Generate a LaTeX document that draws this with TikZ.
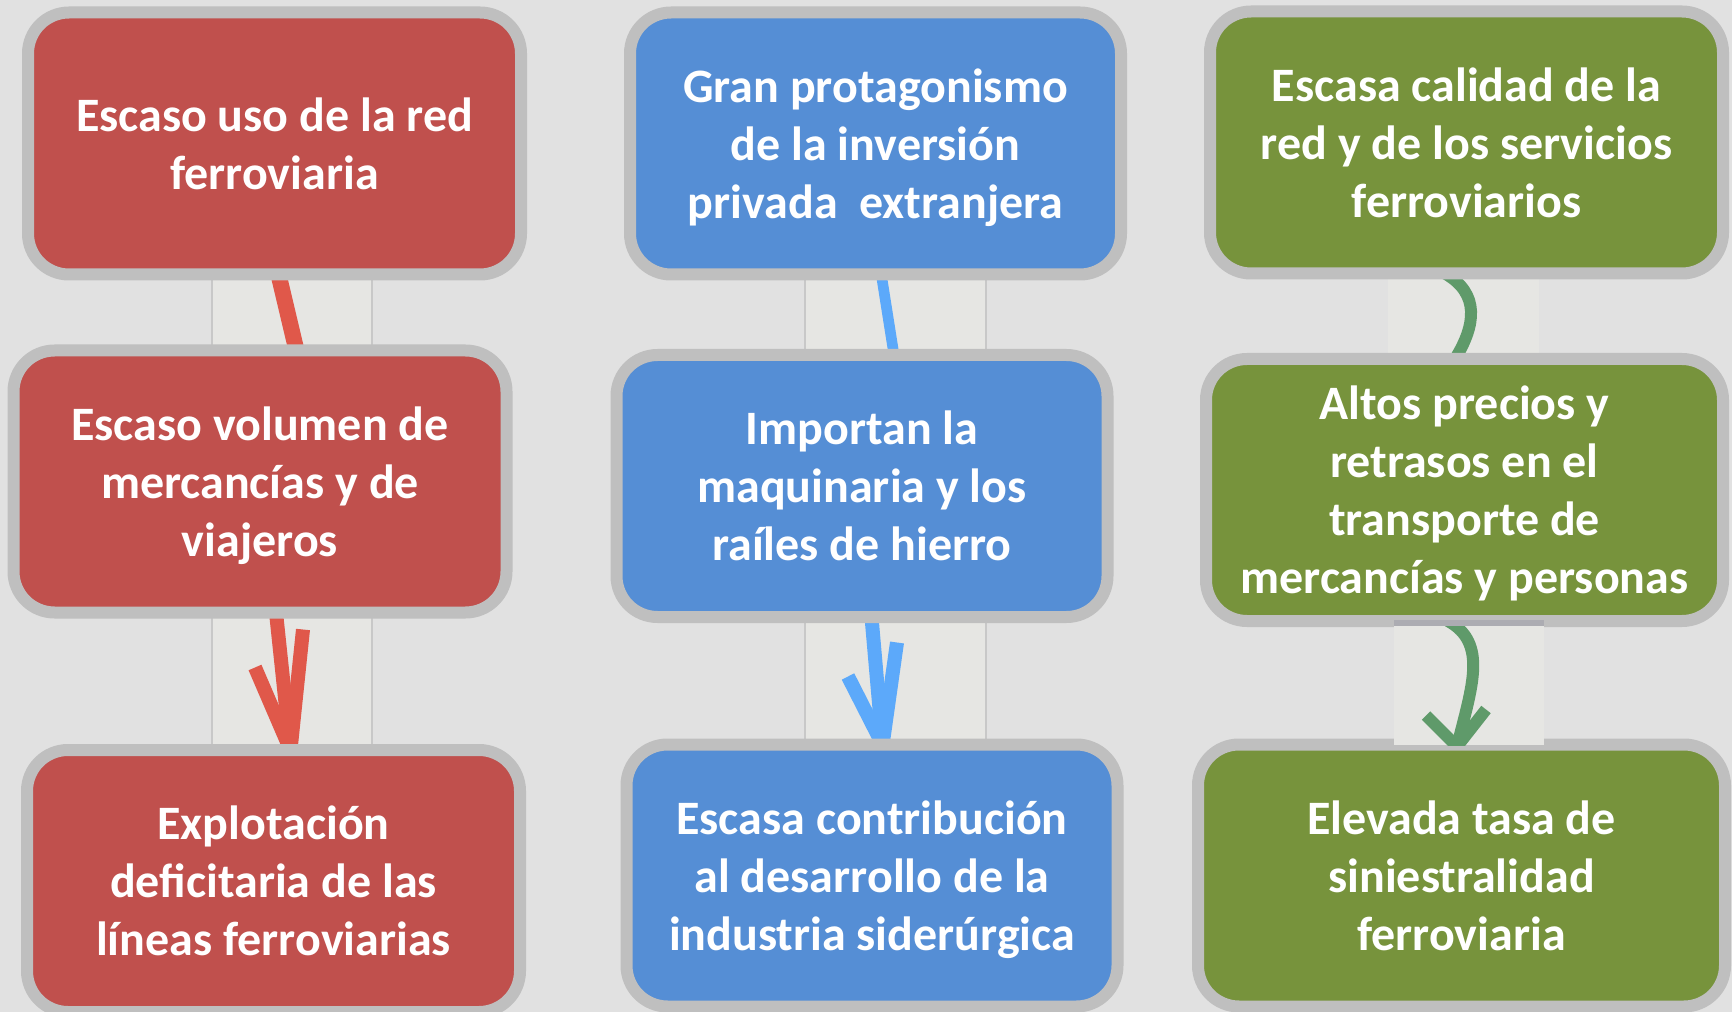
\documentclass[tikz,border=0pt]{standalone}
\usepackage{fontspec}
\newfontfamily\cardfont{Carlito}
\usetikzlibrary{calc,backgrounds}

\tikzset{every picture/.style={line width=0.75pt}}
\tikzset{
  card/.style={draw={rgb, 255:red, 191; green, 191; blue, 191}, line width=9pt, rounded corners=30.75pt,
    minimum height=196.5pt, inner sep=0pt, outer sep=0pt, align=center, text=white, text depth=0pt,
    font=\cardfont\bfseries\fontsize{36pt}{43.5pt}\selectfont},
  redcard/.style={card, fill={rgb, 255:red, 192; green, 80; blue, 77}, minimum width=369.75pt},
  bluecard/.style={card, fill={rgb, 255:red, 85; green, 142; blue, 213}, minimum width=368.25pt},
  greencard/.style={card, fill={rgb, 255:red, 119; green, 147; blue, 60}},
  stripbox/.style={fill={rgb, 255:red, 230; green, 230; blue, 227}, draw={rgb, 255:red, 200; green, 200; blue, 200}, line width=1.2pt},
  redarrow/.style={draw={rgb, 255:red, 224; green, 88; blue, 74}, line width=10.5pt},
  bluearrow/.style={draw={rgb, 255:red, 92; green, 169; blue, 250}, line width=10.5pt},
  greenarrow/.style={draw={rgb, 255:red, 95; green, 154; blue, 106}, line width=9pt, line join=miter}
}

\begin{document}
\begin{tikzpicture}[x=0.75pt,y=0.75pt,yscale=-1,xscale=1]
\useasboundingbox (0,0) rectangle (1732,1012);

%Rounded Rect [red column]
\draw (274.5,143.5) node (r1) [redcard] {Escaso uso de la red\\ferroviaria};
\draw (260,481.5) node (r2) [redcard] {Escaso volumen de\\mercancías y de\\viajeros};
\draw (273.5,881) node (r3) [redcard] {Explotación\\deficitaria de las\\líneas ferroviarias};
%Rounded Rect [blue column]
\draw (875.5,143.5) node (b1) [bluecard] {Gran protagonismo\\de la inversión\\privada\ \ extranjera};
\draw (862,486) node (b2) [bluecard] {Importan la\\maquinaria y los\\raíles de hierro};
\draw (872,875.5) node (b3) [bluecard] {Escasa contribución\\al desarrollo de la\\industria siderúrgica};
%Rounded Rect [green column]
\draw (1466.5,142.5) node (g1) [greencard, minimum width=384.75pt] {Escasa calidad de la\\red y de los servicios\\ferroviarios};
\draw (1464.5,490) node (g2) [greencard, minimum width=387.75pt] {Altos precios y\\retrasos en el\\transporte de\\mercancías y personas};
\draw (1461.5,875.5) node (g3) [greencard, minimum width=395.25pt] {Elevada tasa de\\siniestralidad\\ferroviaria};

%Strip over the boxes [green, lower]
\draw [stripbox, draw=none] (1394,620) rectangle (1544,745);
\begin{scope}
\clip (1394,620) rectangle (1544,745);
%Curve Lines
\draw [greenarrow] ($(g2.south)+(-16.5,0)$) .. controls +(40,22) and +(15,-60) .. ($(g3.north)+(-4.5,2)$);
\draw [greenarrow] ($(g3.north)+(-35.5,-29)$) -- ($(g3.north)+(-4.5,2)$) -- ($(g3.north)+(24.5,-35)$);
\end{scope}
\fill [color={rgb, 255:red, 172; green, 172; blue, 178}] (1394,620) rectangle (1544,626);

\begin{scope}[on background layer]
%Background
\fill [color={rgb, 255:red, 225; green, 225; blue, 225}] (0,0) rectangle (1732,1012);
%Strips
\draw [stripbox] (212,274) rectangle (372,351);
\draw [stripbox] (212,612) rectangle (372,750.5);
\draw [stripbox] (805,274) rectangle (986,355);
\draw [stripbox] (805,617) rectangle (986,745);
\draw [stripbox, draw=none] (1388,273) rectangle (1539,359);

%Straight Lines [red]
\draw [redarrow, line width=12pt] ($(r1.south)+(4,0)$) -- ($(r2.north)+(36.5,0)$);
\coordinate (rtip) at ($(r3.north)+(17,0)$);
\draw [redarrow] ($(r2.south)+(16,0)$) -- (rtip);
\draw [redarrow] (rtip) -- ++(-35.5,-82.5);
\draw [redarrow] (rtip) -- ++(12.5,-120.5);

%Straight Lines [blue]
\draw [bluearrow, line width=8pt] ($(b1.south)+(5.8,0)$) -- ($(b2.north)+(32,0)$);
\coordinate (btip) at ($(b3.north)+(10.6,0)$);
\draw [bluearrow] ($(b2.south)+(9.5,0)$) -- (btip);
\draw [bluearrow] (btip) -- ++(-34.6,-68);
\draw [bluearrow] (btip) -- ++(14.4,-102);

%Curve Lines [green, upper]
\draw [greenarrow] ($(g1.south)+(-21.5,0)$) .. controls +(35,20) and +(21,-34) .. ($(g2.north)+(-9.5,0)$);
\end{scope}

\end{tikzpicture}
\end{document}
